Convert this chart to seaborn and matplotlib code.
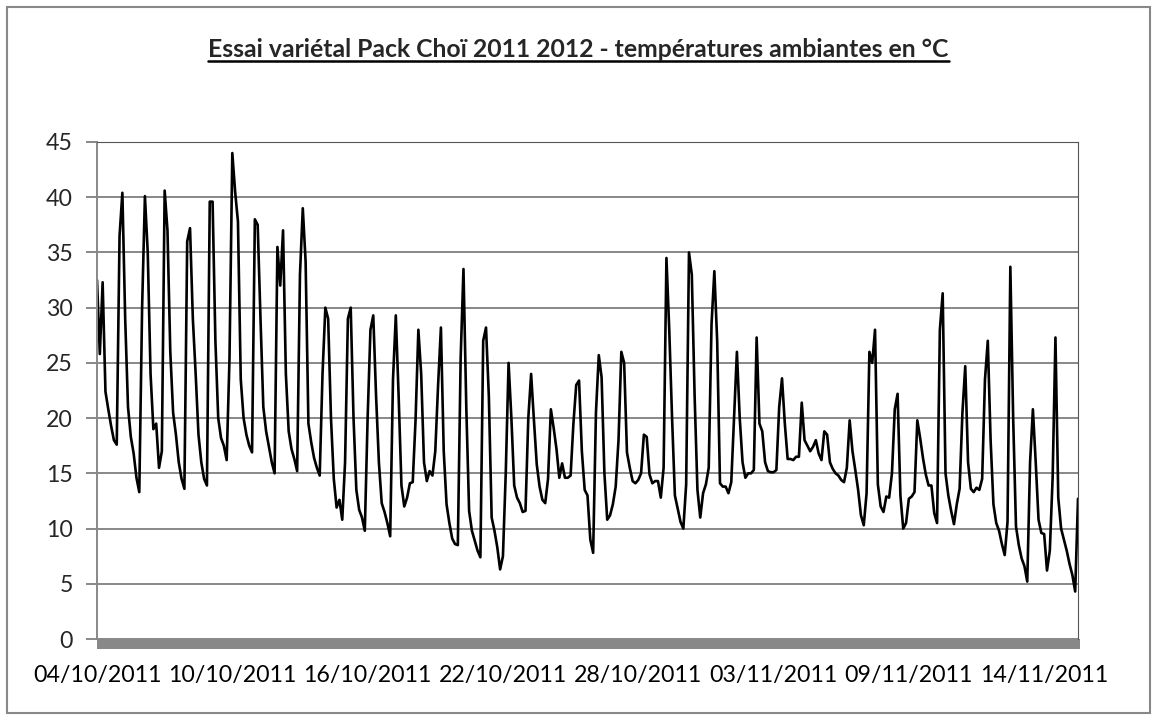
import matplotlib
matplotlib.use("Agg")
import matplotlib.pyplot as plt
from matplotlib.patches import Rectangle
from matplotlib.lines import Line2D
import seaborn as sns
import pandas as pd
import numpy as np

# Données : une valeur toutes les 3 h environ, regroupées par période de 6 jours
titre = "Essai variétal Pack Choï 2011 2012 - températures ambiantes en °C"
etiquettes_dates = ["04/10/2011", "10/10/2011", "16/10/2011", "22/10/2011",
                    "28/10/2011", "03/11/2011", "09/11/2011", "14/11/2011"]
pas_etiquettes = 48
graduations_y = [0, 5, 10, 15, 20, 25, 30, 35, 40, 45]

periode_1 = [32.5, 25.8, 32.3, 22.4, 20.8, 19.3, 18.0, 17.6,
             36.5, 40.4, 29.0, 21.0, 18.3, 16.8, 14.6, 13.3,
             30.0, 40.1, 35.0, 24.0, 19.0, 19.5, 15.5, 17.0,
             40.6, 37.0, 26.0, 20.5, 18.5, 16.0, 14.5, 13.6,
             36.0, 37.2, 29.0, 24.0, 18.5, 16.0, 14.5, 13.9,
             39.6, 39.6, 27.0, 20.0, 18.2, 17.5, 16.2, 25.4]
periode_2 = [44.0, 40.5, 37.8, 23.5, 20.0, 18.5, 17.5, 16.9,
             38.0, 37.5, 29.0, 21.0, 18.8, 17.4, 16.0, 15.0,
             35.5, 32.0, 37.0, 24.0, 18.8, 17.2, 16.3, 15.2,
             33.0, 39.0, 34.2, 19.5, 17.8, 16.4, 15.5, 14.8,
             24.0, 30.0, 29.0, 20.0, 14.5, 11.9, 12.6, 10.8,
             16.0, 29.0, 30.0, 20.0, 13.5, 11.7, 11.0, 9.8]
periode_3 = [20.0, 28.0, 29.3, 22.0, 16.0, 12.3, 11.5, 10.5,
             9.3, 23.5, 29.3, 22.0, 13.9, 12.0, 12.8, 14.1,
             14.2, 19.8, 28.0, 24.0, 16.0, 14.3, 15.2, 14.8,
             17.0, 23.0, 28.2, 17.0, 12.2, 10.5, 9.1, 8.6,
             8.5, 25.4, 33.5, 21.0, 11.6, 9.8, 8.9, 8.0,
             7.4, 27.0, 28.2, 22.0, 11.0, 9.8, 8.3, 6.3]
periode_4 = [7.5, 15.0, 25.0, 20.0, 13.9, 12.8, 12.3, 11.5,
             11.6, 20.0, 24.0, 19.8, 15.8, 13.8, 12.6, 12.3,
             14.5, 20.8, 19.1, 17.2, 14.6, 15.9, 14.6, 14.6,
             14.8, 19.5, 23.0, 23.4, 17.0, 13.5, 13.0, 9.0,
             7.8, 20.5, 25.7, 23.7, 15.0, 10.8, 11.2, 12.2,
             13.8, 18.0, 26.0, 25.0, 16.9, 15.5, 14.3, 14.1]
periode_5 = [14.4, 15.0, 18.5, 18.3, 14.9, 14.1, 14.3, 14.3,
             12.8, 15.5, 34.5, 28.0, 20.0, 13.0, 11.8, 10.6,
             10.0, 14.0, 35.0, 33.0, 22.0, 13.5, 11.0, 13.2,
             14.0, 15.5, 28.5, 33.3, 27.0, 14.1, 13.8, 13.8,
             13.2, 14.2, 20.0, 26.0, 20.0, 16.0, 14.6, 15.0,
             15.0, 15.3, 27.3, 19.5, 18.8, 16.0, 15.2, 15.1]
periode_6 = [15.1, 15.3, 21.0, 23.6, 19.5, 16.3, 16.3, 16.2,
             16.5, 16.5, 21.4, 18.0, 17.5, 17.0, 17.4, 18.0,
             16.8, 16.2, 18.8, 18.5, 16.0, 15.4, 15.0, 14.8,
             14.4, 14.2, 15.5, 19.8, 17.0, 15.3, 13.5, 11.2,
             10.3, 13.2, 26.0, 25.0, 28.0, 14.0, 12.0, 11.5,
             12.9, 12.8, 15.0, 20.8, 22.2, 13.0, 10.0, 10.5]
periode_7 = [12.7, 12.9, 13.3, 19.8, 18.2, 16.4, 14.9, 13.9,
             13.9, 11.4, 10.5, 28.0, 31.3, 15.0, 13.0, 11.6,
             10.4, 12.2, 13.6, 20.5, 24.7, 16.0, 13.6, 13.3,
             13.7, 13.5, 14.5, 23.5, 27.0, 18.0, 12.2, 10.5,
             9.8, 8.6, 7.6, 10.6, 33.7, 20.0, 10.2, 8.5,
             7.3, 6.6, 5.2, 16.0, 20.8, 16.0, 10.8, 9.6]
periode_8 = [9.5, 6.2, 8.0, 14.6, 27.3, 12.8, 10.0, 9.0,
             8.0, 6.8, 5.8, 4.3, 12.7]

temperatures = (periode_1 + periode_2 + periode_3 + periode_4 +
                periode_5 + periode_6 + periode_7 + periode_8)
df = pd.DataFrame({"point": np.arange(len(temperatures)),
                   "temperature": temperatures})

# Style
sns.set_style("white")
plt.rcParams['font.family'] = ['Lato', 'DejaVu Sans']
gris = '#888888'

fig = plt.figure(figsize=(11.57, 7.2), dpi=100)
ax = fig.add_axes([97 / 1157, 1 - 639 / 720, 981 / 1157, 497 / 720])

sns.lineplot(data=df, x="point", y="temperature", color="black",
             linewidth=1.9, ax=ax)

ax.set_xlim(0, len(temperatures) - 1)
ax.set_ylim(0, 45)
ax.set_yticks(graduations_y)
ax.yaxis.grid(True, color=gris, linewidth=1.4)
ax.set_axisbelow(True)

positions = [i * pas_etiquettes for i in range(len(etiquettes_dates))]
ax.set_xticks(positions)
ax.set_xticklabels(etiquettes_dates)
ax.set_xlabel("")
ax.set_ylabel("")
ax.tick_params(axis='x', length=0, pad=19, labelsize=16.7, colors='black')
ax.tick_params(axis='y', length=7.9, width=1.4, color=gris, pad=9.4,
               labelsize=16.7, left=True)

for cote in ['top', 'right']:
    ax.spines[cote].set_color('#555555')
    ax.spines[cote].set_linewidth(0.8)
ax.spines['left'].set_color(gris)
ax.spines['left'].set_linewidth(1.4)
ax.spines['bottom'].set_visible(False)

# Barre grise épaisse de l'axe horizontal
ax.add_patch(Rectangle((0, -10 / 497), 1.002, 10 / 497, transform=ax.transAxes,
                       clip_on=False, facecolor=gris, edgecolor='none'))

# Cadre du graphique
fig.patches.append(Rectangle((7 / 1157, 7 / 720), 1143 / 1157, 706 / 720,
                             transform=fig.transFigure, fill=False,
                             edgecolor=gris, linewidth=1.5))

# Titre souligné
t = fig.text(0.5, 1 - 57 / 720, titre, ha='center', va='baseline',
             fontsize=17.8, fontweight='bold')
fig.canvas.draw()
bb = t.get_window_extent()
y_soul = 1 - 61 / 720
fig.lines.append(Line2D([bb.x0 / 1157, bb.x1 / 1157], [y_soul, y_soul],
                        transform=fig.transFigure, color='black', linewidth=1.8))

fig.savefig("out.png", dpi=100)
